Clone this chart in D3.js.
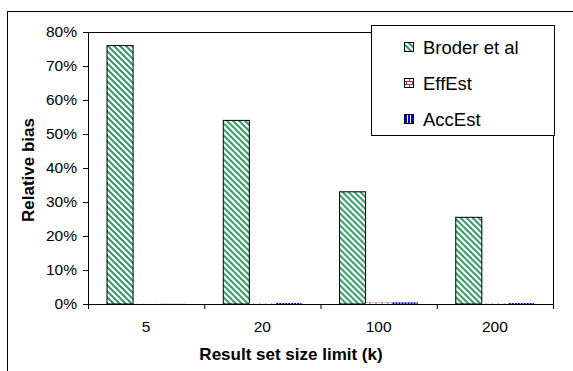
<!DOCTYPE html>
<html>
<head>
<meta charset="utf-8">
<script src="https://cdn.jsdelivr.net/npm/d3@7"></script>
<style>
  body { margin: 0; background: #fff; }
  text { font-family: "Liberation Sans", Arial, sans-serif; }
</style>
</head>
<body>
<script>
var categories = ["5", "20", "100", "200"];
var seriesNames = ["Broder et al", "EffEst", "AccEst"];
var broder = [0.76, 0.54, 0.33, 0.255];
var effEst = [0.0005, 0.002, 0.004, 0.002];
var accEst = [0.0005, 0.003, 0.005, 0.003];
var yTicks = [0, 0.1, 0.2, 0.3, 0.4, 0.5, 0.6, 0.7, 0.8];

var W = 573, H = 371;
var margin = {top: 32, right: 20, bottom: 67, left: 88},
    width = 553 - margin.left,
    height = 304 - margin.top;

var svg = d3.select("body").append("svg")
  .attr("width", W)
  .attr("height", H);

var defs = svg.append("defs");

// diagonal green stripes
var p1 = defs.append("pattern").attr("id", "pat0")
  .attr("patternUnits", "userSpaceOnUse").attr("width", 6).attr("height", 6);
p1.append("rect").attr("width", 6).attr("height", 6).attr("fill", "#fff");
p1.append("path").attr("d", "M-1,-1 L7,7 M-4,2 L2,8 M4,-2 L10,4")
  .attr("stroke", "#339966").attr("stroke-width", 2);

// brick-ish maroon pattern
var p2 = defs.append("pattern").attr("id", "pat1")
  .attr("patternUnits", "userSpaceOnUse").attr("width", 6).attr("height", 6);
p2.append("rect").attr("width", 6).attr("height", 6).attr("fill", "#fff");
p2.append("path").attr("d", "M0,0.5 H6 M0,3.5 H6 M1.5,0 V3 M4.5,3 V6")
  .attr("stroke", "#993366").attr("stroke-width", 1);

// vertical blue stripes
var p3 = defs.append("pattern").attr("id", "pat2")
  .attr("patternUnits", "userSpaceOnUse").attr("width", 3).attr("height", 3);
p3.append("rect").attr("width", 3).attr("height", 3).attr("fill", "#fff");
p3.append("rect").attr("width", 2).attr("height", 3).attr("fill", "#0000cc");

// outer chart border
svg.append("rect")
  .attr("x", 7.5).attr("y", 11.5)
  .attr("width", 580).attr("height", 380)
  .attr("fill", "none").attr("stroke", "#000").attr("stroke-width", 1);

var g = svg.append("g")
  .attr("transform", "translate(" + margin.left + "," + margin.top + ")");

var x0 = d3.scaleBand().domain(categories).range([0, width]).paddingInner(0).paddingOuter(0);
var x1 = d3.scaleBand().domain(seriesNames).range([19, x0.bandwidth() - 19]);
var y = d3.scaleLinear().domain([0, 0.8]).range([height, 0]);

// plot area frame
g.append("rect")
  .attr("x", 0.5).attr("y", 0.5)
  .attr("width", width).attr("height", height)
  .attr("fill", "none").attr("stroke", "#000");

var data = categories.map(function(c, i) {
  return {cat: c, vals: [broder[i], effEst[i], accEst[i]]};
});

var groups = g.selectAll(".grp")
  .data(data)
  .enter().append("g")
  .attr("class", "grp")
  .attr("transform", function(d) { return "translate(" + x0(d.cat) + ",0)"; });

groups.selectAll("rect")
  .data(function(d) {
    return d.vals.map(function(v, j) { return {s: seriesNames[j], v: v, j: j}; });
  })
  .enter().append("rect")
  .attr("x", function(d) { return x1(d.s); })
  .attr("width", x1.bandwidth())
  .attr("y", function(d) { return y(d.v); })
  .attr("height", function(d) { return Math.max(0, height - y(d.v)); })
  .attr("fill", function(d) { return "url(#pat" + d.j + ")"; })
  .attr("stroke", function(d) { return d.j == 0 ? "#000" : "none"; })
  .attr("stroke-width", 1);

var yAxis = d3.axisLeft(y).tickValues(yTicks)
  .tickFormat(d3.format(".0%")).tickSize(5).tickPadding(6);
var ya = g.append("g").call(yAxis);
ya.select(".domain").attr("stroke", "#000");
ya.selectAll("text").attr("font-size", 15.5).attr("fill", "#000")
  .style("font-family", "Liberation Sans, Arial, sans-serif");

var xAxis = d3.axisBottom(x0).tickSize(0).tickPadding(17);
var xa = g.append("g").attr("transform", "translate(0," + height + ")").call(xAxis);
xa.select(".domain").remove();
xa.selectAll("text").attr("font-size", 15.5).attr("fill", "#000")
  .style("font-family", "Liberation Sans, Arial, sans-serif");

// category separator ticks
g.append("g").attr("transform", "translate(0," + height + ")")
  .selectAll("line")
  .data(categories.concat(["end"]))
  .enter().append("line")
  .attr("x1", function(d, i) { return i * x0.bandwidth() + 0.5; })
  .attr("x2", function(d, i) { return i * x0.bandwidth() + 0.5; })
  .attr("y1", 0).attr("y2", 5)
  .attr("stroke", "#000");

g.append("line")
  .attr("x1", 0).attr("x2", width).attr("y1", height + 0.5).attr("y2", height + 0.5)
  .attr("stroke", "#000");

svg.append("text")
  .attr("x", 291)
  .attr("y", 360)
  .attr("text-anchor", "middle")
  .attr("font-size", 17).attr("font-weight", "bold")
  .text("Result set size limit (k)");

svg.append("text")
  .attr("transform", "translate(34,170) rotate(-90)")
  .attr("text-anchor", "middle")
  .attr("font-size", 17).attr("font-weight", "bold")
  .text("Relative bias");

// legend
var legend = svg.append("g").attr("id", "legend");
legend.append("rect")
  .attr("x", 371.5).attr("y", 25.5)
  .attr("width", 183).attr("height", 110)
  .attr("fill", "#fff").attr("stroke", "#000");

seriesNames.forEach(function(s, i) {
  var ly = 47 + i * 36;
  legend.append("rect")
    .attr("x", 404.5).attr("y", ly - 4.5)
    .attr("width", 9).attr("height", 9)
    .attr("fill", "url(#pat" + i + ")")
    .attr("stroke", "#000");
  legend.append("text")
    .attr("x", 423).attr("y", ly + 6.5)
    .attr("font-size", 18.5)
    .text(s);
});
</script>
</body>
</html>
